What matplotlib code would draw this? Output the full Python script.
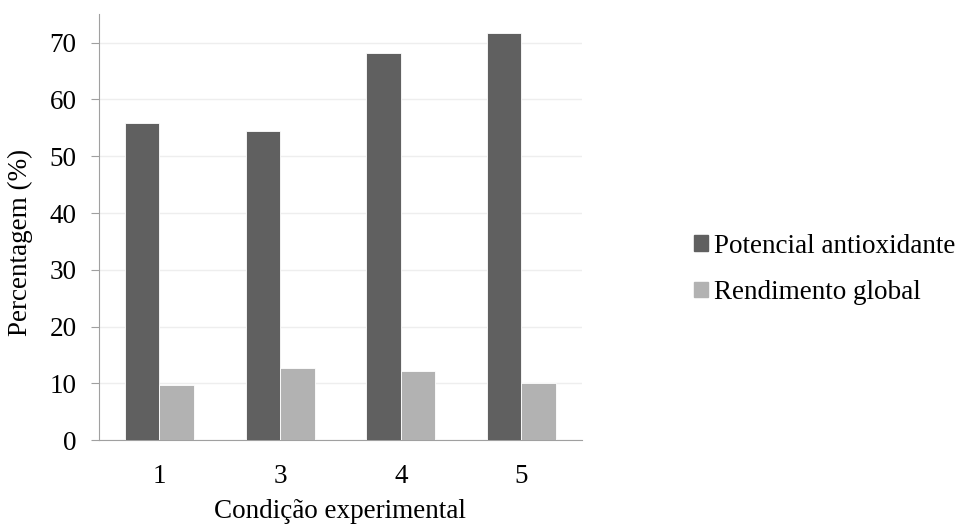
import numpy as np
import matplotlib.pyplot as plt
from matplotlib.patches import Patch

# data
condicoes = ["1", "3", "4", "5"]
potencial = [55.8, 54.5, 68.2, 71.7]
rendimento = [9.8, 12.8, 12.2, 10.1]

plt.rcParams["font.family"] = ["Liberation Serif", "DejaVu Serif"]

fig = plt.figure(figsize=(9.73, 5.24), dpi=100)
ax = fig.add_axes([0.1017, 0.1597, 0.4963, 0.8133])

x = np.arange(len(condicoes))
w = 0.286
ax.bar(x - w / 2, potencial, w, color="#606060", edgecolor="white", linewidth=0.6, zorder=3)
ax.bar(x + w / 2, rendimento, w, color="#b2b2b2", edgecolor="white", linewidth=0.6, zorder=3)

ax.set_xlim(-0.5, len(condicoes) - 0.5)
ax.set_ylim(0, 75)
ax.set_yticks(range(0, 80, 10))
ax.set_xticks(x)
ax.set_xticklabels(condicoes)
ax.yaxis.grid(True, color="#eeeeee", linewidth=1, zorder=0)

for s in ["top", "right"]:
    ax.spines[s].set_visible(False)
ax.spines["left"].set_color("#a0a0a0")
ax.spines["bottom"].set_color("#a0a0a0")
ax.tick_params(axis="y", length=6, color="#a0a0a0", labelsize=19.5, pad=10)
ax.tick_params(axis="x", length=0, labelsize=19.5, pad=17)

ax.set_ylabel("Percentagem (%)", fontsize=19.5)
ax.yaxis.set_label_coords(-0.137, 0.465)
ax.set_xlabel("Condição experimental", fontsize=19.5, labelpad=7)

handles = [Patch(color="#606060"), Patch(color="#b2b2b2")]
fig.legend(handles, ["Potencial antioxidante", "Rendimento global"],
           loc="center left", bbox_to_anchor=(0.6996, 0.486), frameon=False,
           borderpad=0, fontsize=19.5, handlelength=0.5, handleheight=0.5,
           handletextpad=0.22, labelspacing=0.8)

fig.savefig("out.png", dpi=100)
